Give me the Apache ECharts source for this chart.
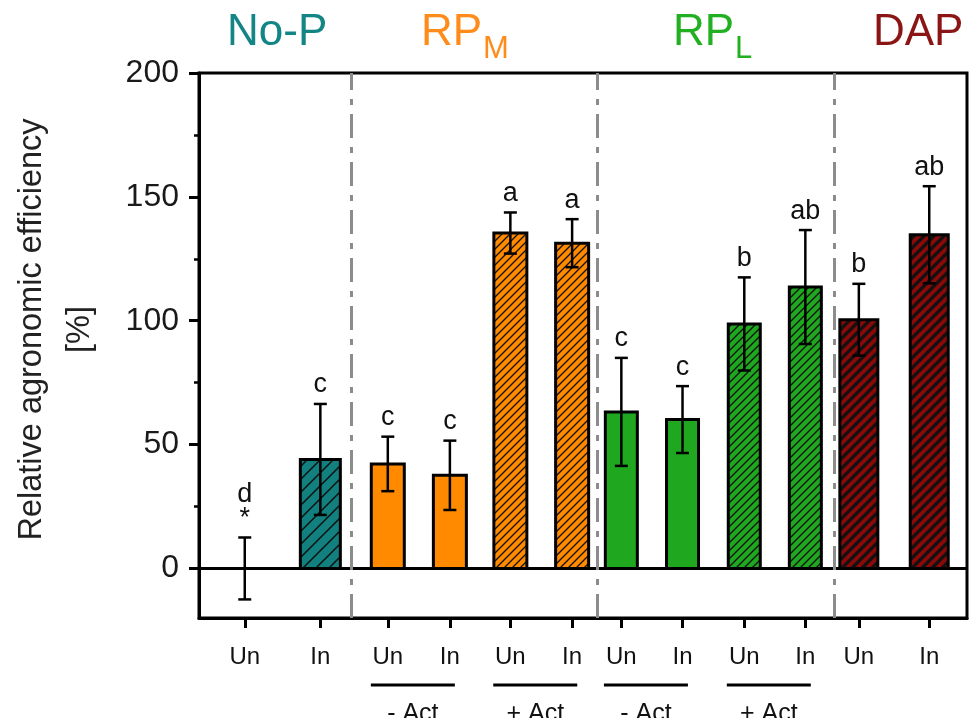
<!DOCTYPE html>
<html><head><meta charset="utf-8">
<script src="https://cdn.jsdelivr.net/npm/echarts@6/dist/echarts.min.js"></script>
<style>html,body{margin:0;padding:0;background:#fff}#c{width:971px;height:718px}</style>
</head><body><div id="c"></div>
<script>
// ---------------- data ----------------
const treatments  = ['Un','In','Un','In','Un','In','Un','In','Un','In','Un','In'];
const fertilizers = ['No-P','No-P','RPM','RPM','RPM','RPM','RPL','RPL','RPL','RPL','DAP','DAP'];
const activation  = ['', '', '-', '-', '+', '+', '-', '-', '+', '+', '', ''];
// category positions along the (hidden-scale) x axis
const xPositions  = [7.15, 18.96, 29.5, 39.2, 48.65, 58.3, 65.99, 75.55, 85.2, 94.74, 103.1, 114.1];
const means       = [0, 44, 42.2, 37.6, 135.4, 131.3, 63.2, 60.1, 98.7, 113.6, 100.4, 134.7];
const sds         = [12.5, 22.4, 11, 14, 8.3, 9.7, 21.8, 13.5, 18.8, 23, 14.5, 19.6];
const letters     = ['d\n*', 'c', 'c', 'c', 'a', 'a', 'c', 'c', 'b', 'ab', 'b', 'ab'];
const separators  = [23.8, 62.3, 99.2];
const actLabels   = ['- Act', '+ Act', '- Act', '+ Act'];
const actPairs    = [[2,3],[4,5],[6,7],[8,9]];
const yTicks      = [0, 50, 100, 150, 200];
const yMinorTicks = [25, 75, 125, 175];
const yTitle      = 'Relative agronomic efficiency\n[%]';

// ---------------- styles ----------------
const FONT = "'Liberation Sans', Arial, Helvetica, sans-serif";
const fertStyle = {
  'No-P': { color: '#11807f', width: 40, space: 13, lw: 1.5 },
  'RPM':  { color: '#ff8a00', width: 33, space: 8,  lw: 1.3 },
  'RPL':  { color: '#1fa81f', width: 32, space: 8,  lw: 1.3 },
  'DAP':  { color: '#8a0a0a', width: 38, space: 10, lw: 3.2 }
};
function makeHatch(color, s, lw) {
  const c = document.createElement('canvas');
  c.width = s; c.height = s;
  const ctx = c.getContext('2d');
  ctx.fillStyle = color; ctx.fillRect(0, 0, s, s);
  ctx.strokeStyle = '#111'; ctx.lineWidth = lw;
  ctx.beginPath();
  ctx.moveTo(-2, 2); ctx.lineTo(2, -2);
  ctx.moveTo(0, s); ctx.lineTo(s, 0);
  ctx.moveTo(s - 2, s + 2); ctx.lineTo(s + 2, s - 2);
  ctx.stroke();
  return { image: c, repeat: 'repeat' };
}
const hatches = {};
Object.keys(fertStyle).forEach(k => {
  const st = fertStyle[k];
  hatches[k] = makeHatch(st.color, st.space, st.lw);
});
function isHatched(i) {
  return activation[i] === '+' || fertilizers[i] === 'No-P' || fertilizers[i] === 'DAP';
}

const barData = xPositions.map((x, i) => [x, means[i]]);
const errData = xPositions.map((x, i) => [x, means[i], sds[i]]);
const actData = actPairs.map(p => [xPositions[p[0]], xPositions[p[1]]]);

const chart = echarts.init(document.getElementById('c'), null, { renderer: 'canvas' });
chart.setOption({
  animation: false,
  backgroundColor: '#fff',
  grid: { left: 195, top: 73, right: 4, bottom: 100, show: true, borderColor: '#000', borderWidth: 3, containLabel: false },
  xAxis: {
    type: 'value', min: 0, max: 120,
    splitLine: { show: false },
    axisLine: { show: true, onZero: false, lineStyle: { color: '#000', width: 3 } },
    axisTick: { show: true, customValues: xPositions, length: 10, lineStyle: { color: '#000', width: 3 } },
    axisLabel: {
      customValues: xPositions, margin: 27,
      formatter: v => { const i = xPositions.indexOf(v); return i >= 0 ? treatments[i] : ''; },
      fontFamily: FONT, fontSize: 24, color: '#111'
    }
  },
  yAxis: [{
    type: 'value', min: -20, max: 200,
    name: yTitle, nameLocation: 'middle', nameGap: 95,
    nameTextStyle: { fontFamily: FONT, fontSize: 32.5, lineHeight: 48, color: '#222', padding: [0, 0, 0, 32] },
    splitLine: { show: false },
    axisLine: { show: true, onZero: false, lineStyle: { color: '#000', width: 3 } },
    axisTick: { show: true, customValues: yTicks, length: 10, lineStyle: { color: '#000', width: 3 } },
    axisLabel: { customValues: yTicks, margin: 20, fontFamily: FONT, fontSize: 32, color: '#1a1a1a' }
  }, {
    type: 'value', min: -20, max: 200, position: 'left', offset: 0,
    splitLine: { show: false },
    axisLine: { show: false, onZero: false },
    axisTick: { show: true, customValues: yMinorTicks, length: 5, lineStyle: { color: '#000', width: 2.5 } },
    axisLabel: { show: false }
  }],
  series: [{
    type: 'custom', name: 'bars',
    data: barData,
    renderItem: function (params, api) {
      const i = params.dataIndex;
      const x = api.value(0), y = api.value(1);
      if (!y) return null;
      const st = fertStyle[fertilizers[i]];
      const p0 = api.coord([x, 0]);
      const p1 = api.coord([x, y]);
      return {
        type: 'rect',
        shape: { x: p0[0] - st.width / 2, y: p1[1], width: st.width, height: p0[1] - p1[1] },
        style: { fill: isHatched(i) ? hatches[fertilizers[i]] : st.color, stroke: '#000', lineWidth: 3 }
      };
    },
    markLine: {
      silent: true, symbol: 'none', label: { show: false },
      data: [
        { yAxis: 0, lineStyle: { color: '#000', width: 3, type: 'solid' } }
      ].concat(separators.map(s => ({ xAxis: s, lineStyle: { color: '#8c8c8c', width: 3, type: [24, 9, 6, 9] } })))
    },
    z: 2
  }, {
    type: 'custom', name: 'errors',
    data: errData,
    renderItem: function (params, api) {
      const i = params.dataIndex;
      const x = api.value(0), m = api.value(1), s = api.value(2);
      const top = api.coord([x, m + s]);
      const bot = api.coord([x, m - s]);
      const cap = 6.5;
      const ls = { stroke: '#000', lineWidth: 2.5 };
      return {
        type: 'group',
        children: [
          { type: 'line', shape: { x1: top[0], y1: top[1], x2: bot[0], y2: bot[1] }, style: ls },
          { type: 'line', shape: { x1: top[0] - cap, y1: top[1], x2: top[0] + cap, y2: top[1] }, style: ls },
          { type: 'line', shape: { x1: bot[0] - cap, y1: bot[1], x2: bot[0] + cap, y2: bot[1] }, style: ls },
          { type: 'text', x: top[0], y: top[1] - 7,
            style: { text: letters[i], fill: '#111', font: '27px ' + FONT, align: 'center', verticalAlign: 'bottom', lineHeight: 24 } }
        ]
      };
    },
    z: 3
  }, {
    type: 'custom', name: 'activation',
    clip: false,
    data: actData,
    encode: { x: [0, 1] },
    renderItem: function (params, api) {
      const i = params.dataIndex;
      const a = api.coord([api.value(0), -20]);
      const b = api.coord([api.value(1), -20]);
      const cx = (a[0] + b[0]) / 2 - 6;
      const base = a[1];
      return {
        type: 'group',
        children: [
          { type: 'line', shape: { x1: cx - 42, y1: base + 67, x2: cx + 42, y2: base + 67 }, style: { stroke: '#000', lineWidth: 3 } },
          { type: 'text', x: cx, y: base + 84,
            style: { text: actLabels[i], fill: '#111', font: '25px ' + FONT, align: 'center', verticalAlign: 'top' } }
        ]
      };
    },
    z: 3
  }],
  graphic: [
    { type: 'text', left: 227, top: 11, style: { text: 'No-P', fill: '#138585', font: '44px ' + FONT } },
    { type: 'text', x: 482, y: 11, style: { text: 'RP', fill: '#ff8c1a', font: '44px ' + FONT, align: 'right', verticalAlign: 'top' } },
    { type: 'text', x: 483, y: 34, style: { text: 'M', fill: '#ff8c1a', font: '31px ' + FONT, align: 'left', verticalAlign: 'top' } },
    { type: 'text', x: 734, y: 11, style: { text: 'RP', fill: '#22b022', font: '44px ' + FONT, align: 'right', verticalAlign: 'top' } },
    { type: 'text', x: 735, y: 34, style: { text: 'L', fill: '#22b022', font: '31px ' + FONT, align: 'left', verticalAlign: 'top' } },
    { type: 'text', left: 873, top: 11, style: { text: 'DAP', fill: '#8b1414', font: '44px ' + FONT } }
  ]
});
</script>
</body></html>
